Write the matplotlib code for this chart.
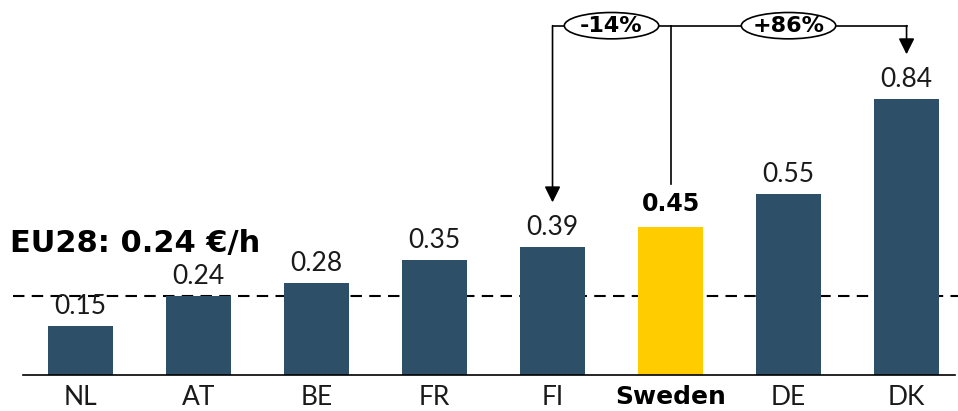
import matplotlib
matplotlib.use("Agg")
import matplotlib.pyplot as plt
from matplotlib.patches import Ellipse

# data
countries = ["NL", "AT", "BE", "FR", "FI", "Sweden", "DE", "DK"]
values = [0.15, 0.24, 0.28, 0.35, 0.39, 0.45, 0.55, 0.84]
eu_avg = 0.24
eu_label = "EU28: 0.24 €/h"
highlight = "Sweden"
comparisons = [("FI", "-14%"), ("DK", "+86%")]

dark = "#2d5068"
yellow = "#ffcc00"
light_font = ["Lato", "DejaVu Sans"]
bold_font = ["DejaVu Sans"]

fig = plt.figure(figsize=(9.58, 4.11), dpi=100)
ax = fig.add_axes([0, 0, 1, 1])

x = list(range(len(countries)))
colors = [yellow if c == highlight else dark for c in countries]

# dashed EU average behind the bars
ax.axhline(eu_avg, xmin=0.014, xmax=1, color="black", lw=1.5,
           dashes=(5.5, 3.5), zorder=1)
ax.bar(x, values, width=0.55, color=colors, zorder=2)
ax.plot([-0.49, 7.41], [0, 0], color="black", lw=1.2, zorder=3)

# value labels and category labels
for i, (c, v) in enumerate(zip(countries, values)):
    if c == highlight:
        ax.annotate(f"{v:.2f}", (i, v), xytext=(0, 8), textcoords="offset points",
                    ha="center", va="bottom", fontsize=17, fontweight="heavy",
                    family=bold_font)
        ax.text(i, -0.067, c, ha="center", va="center", fontsize=18,
                fontweight="heavy", family=bold_font)
    else:
        ax.annotate(f"{v:.2f}", (i, v), xytext=(0, 5), textcoords="offset points",
                    ha="center", va="bottom", fontsize=19, fontweight="normal",
                    family=light_font, color="#1a1a1a")
        ax.text(i, -0.067, c, ha="center", va="center", fontsize=19,
                fontweight="normal", family=light_font, color="#1a1a1a")

ax.text(-0.6, 0.4, eu_label, ha="left", va="center", fontsize=22,
        fontweight="heavy", family=bold_font)

# comparison brackets from Sweden
top = 1.062
s = countries.index(highlight)
ax.plot([s, s], [values[s] + 0.13, top], color="black", lw=1.2)
for name, pct in comparisons:
    j = countries.index(name)
    ax.plot([s, j], [top, top], color="black", lw=1.2, zorder=3)
    ax.annotate("", xy=(j, values[j] + 0.135), xytext=(j, top),
                arrowprops=dict(arrowstyle="-|>", color="black", lw=1.2,
                                mutation_scale=24, shrinkA=0, shrinkB=0))
    cx = (s + j) / 2
    ax.add_patch(Ellipse((cx, top), 0.8, 0.08, facecolor="white",
                         edgecolor="black", lw=1.2, zorder=4))
    ax.text(cx, top, pct, ha="center", va="center", fontsize=16,
            fontweight="bold", family=bold_font, zorder=5)

ax.set_xlim(-0.682, 7.436)
ax.set_ylim(-0.109, 1.140)
ax.axis("off")

fig.savefig("out.png", dpi=100)
